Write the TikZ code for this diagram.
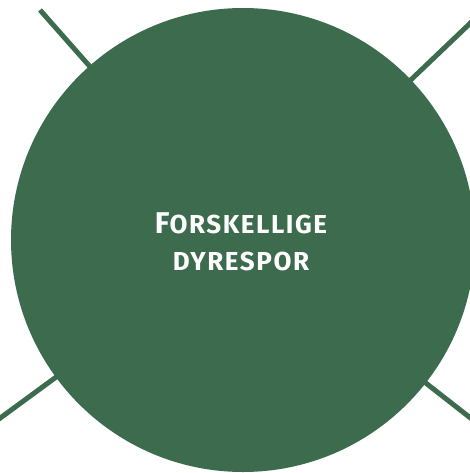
\documentclass[tikz,border=0pt]{standalone}
\usepackage{fontspec}
\setmainfont{Fira Sans}[LetterSpace=6]
\definecolor{spruce}{HTML}{3C6B4E}
\newcommand{\capF}{\fontsize{30}{37}\selectfont}
\newcommand{\capS}{\fontsize{26}{37}\selectfont}

\begin{document}
\begin{tikzpicture}[x=1pt,y=1pt,font=\bfseries\capS]
  \tikzstyle{branch}=[draw=spruce,line width=5pt]
  \tikzstyle{topic}=[circle,fill=spruce,text=white,minimum size=464pt,inner sep=0pt,align=center]

  \useasboundingbox (0,0) rectangle (469,-473);

  \coordinate (hub) at (243,-240);
  \coordinate (nw) at (40,-10);
  \coordinate (ne) at (482,-12);
  \coordinate (sw) at (-12,-427);
  \coordinate (se) at (482,-427);

  \path[branch] (hub) -- (nw);
  \path[branch] (hub) -- (ne);
  \path[branch] (hub) -- (sw);
  \path[branch] (hub) -- (se);

  \node[topic] (spor) at (hub) {};
  \node[text=white,align=center,anchor=base] (label) at (241,-270)
    {{\capF F}ORSKELLIGE\\DYRESPOR};

\end{tikzpicture}
\end{document}
